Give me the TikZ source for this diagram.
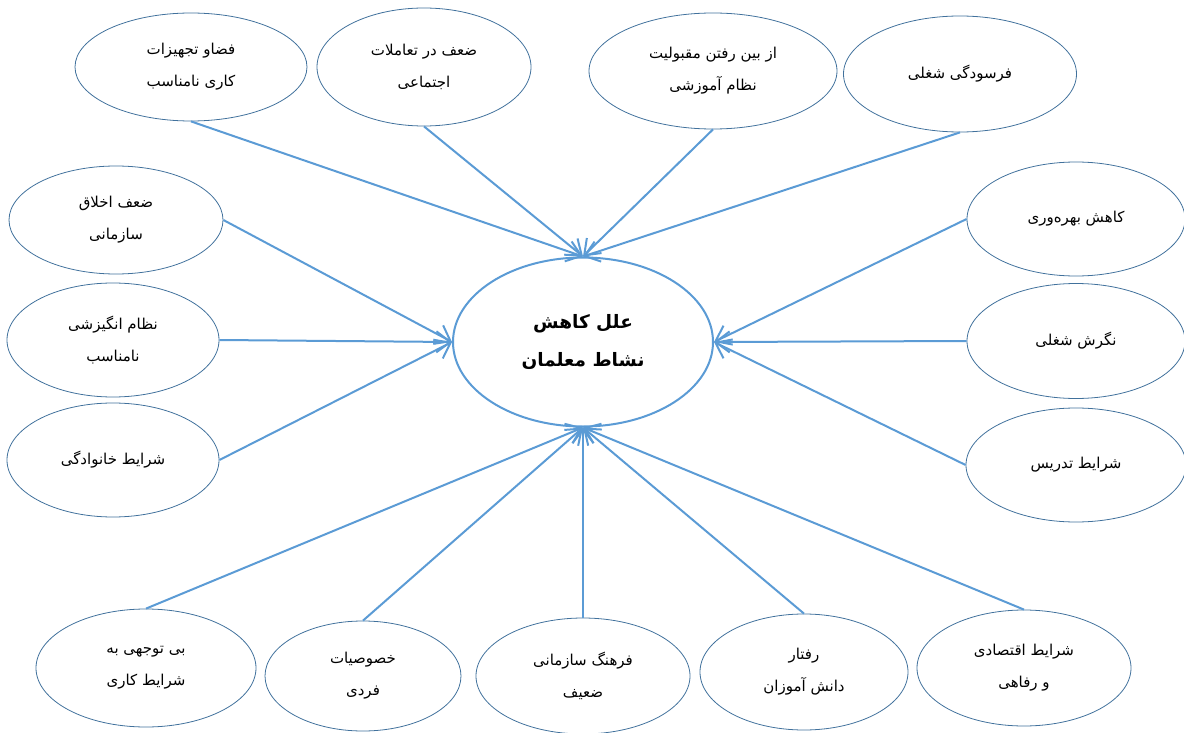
\documentclass[tikz,border=0pt]{standalone}
\usepackage{fontspec}
\usepackage{tikz}
\usetikzlibrary{arrows.meta}
\usetikzlibrary{shapes.geometric}
\TeXXeTstate=1
\newfontfamily\arabicfont[Script=Arabic]{DejaVu Sans}
\definecolor{rim}{HTML}{41719C}
\definecolor{link}{HTML}{5B9BD5}
\newcommand{\fatext}[1]{\beginR #1\endR}
\tikzstyle{cause}=[ellipse, draw=rim, line width=0.8pt, inner sep=0pt, align=center, font=\arabicfont\fontsize{15}{32}\selectfont]
\tikzstyle{core}=[ellipse, draw=link, line width=2pt, inner sep=0pt, align=center, font=\arabicfont\bfseries\fontsize{18.5}{38}\selectfont]
\tikzstyle{arrow}=[draw=link, line width=2pt, -{Straight Barb[length=14pt,width=21pt]}]

\begin{document}
\begin{tikzpicture}[x=1pt, y=-1pt]
		   \useasboundingbox (0, 0) rectangle (1184, 733);
		   \begin{scope}
			   \node (0) at (583, 342)[core, minimum width=260, minimum height=169] {\fatext{علل کاهش}\\\fatext{نشاط معلمان}};
			   % top row
			   \node (1) at (191, 67)[cause, minimum width=232, minimum height=108] {\fatext{فضاو تجهیزات}\\\fatext{کاری نامناسب}};
			   \node (2) at (424, 67)[cause, minimum width=214, minimum height=118] {\fatext{ضعف در تعاملات}\\\fatext{اجتماعی}};
			   \node (3) at (713, 71)[cause, minimum width=248, minimum height=116] {\fatext{از بین رفتن مقبولیت}\\\fatext{نظام آموزشی}};
			   \node (4) at (960, 74)[cause, minimum width=233, minimum height=116] {\fatext{فرسودگی شغلی}};
			   % left column
			   \node (5) at (116, 220)[cause, minimum width=214, minimum height=108] {\fatext{ضعف اخلاق}\\\fatext{سازمانی}};
			   \node (6) at (113, 340)[cause, minimum width=212, minimum height=114] {\fatext{نظام انگیزشی}\\\fatext{نامناسب}};
			   \node (7) at (113, 460)[cause, minimum width=212, minimum height=114] {\fatext{شرایط خانوادگی}};
			   % right column
			   \node (8) at (1076, 219)[cause, minimum width=218, minimum height=114] {\fatext{کاهش بهره‌وری}};
			   \node (9) at (1076, 341)[cause, minimum width=218, minimum height=115] {\fatext{نگرش شغلی}};
			   \node (10) at (1076, 465)[cause, minimum width=220, minimum height=114] {\fatext{شرایط تدریس}};
			   % bottom row
			   \node (11) at (146, 668)[cause, minimum width=220, minimum height=118] {\fatext{بی توجهی به}\\\fatext{شرایط کاری}};
			   \node (12) at (363, 676)[cause, minimum width=196, minimum height=110] {\fatext{خصوصیات}\\\fatext{فردی}};
			   \node (13) at (583, 676)[cause, minimum width=214, minimum height=116] {\fatext{فرهنگ سازمانی}\\\fatext{ضعیف}};
			   \node (14) at (804, 672)[cause, minimum width=208, minimum height=116] {\fatext{رفتار}\\\fatext{دانش آموزان}};
			   \node (15) at (1024, 668)[cause, minimum width=214, minimum height=116] {\fatext{شرایط اقتصادی}\\\fatext{و رفاهی}};
		   \end{scope}
		   \begin{scope}
			   \path (1.south) edge [arrow] (0.north);
			   \path (2.south) edge [arrow] (0.north);
			   \path (3.south) edge [arrow] (0.north);
			   \path (4.south) edge [arrow] (0.north);
			   \path (5.east) edge [arrow] (0.west);
			   \path (6.east) edge [arrow] (0.west);
			   \path (7.east) edge [arrow] (0.west);
			   \path (8.west) edge [arrow] (0.east);
			   \path (9.west) edge [arrow] (0.east);
			   \path (10.west) edge [arrow] (0.east);
			   \path (11.north) edge [arrow] (0.south);
			   \path (12.north) edge [arrow] (0.south);
			   \path (13.north) edge [arrow] (0.south);
			   \path (14.north) edge [arrow] (0.south);
			   \path (15.north) edge [arrow] (0.south);
		   \end{scope}
\end{tikzpicture}
\end{document}
